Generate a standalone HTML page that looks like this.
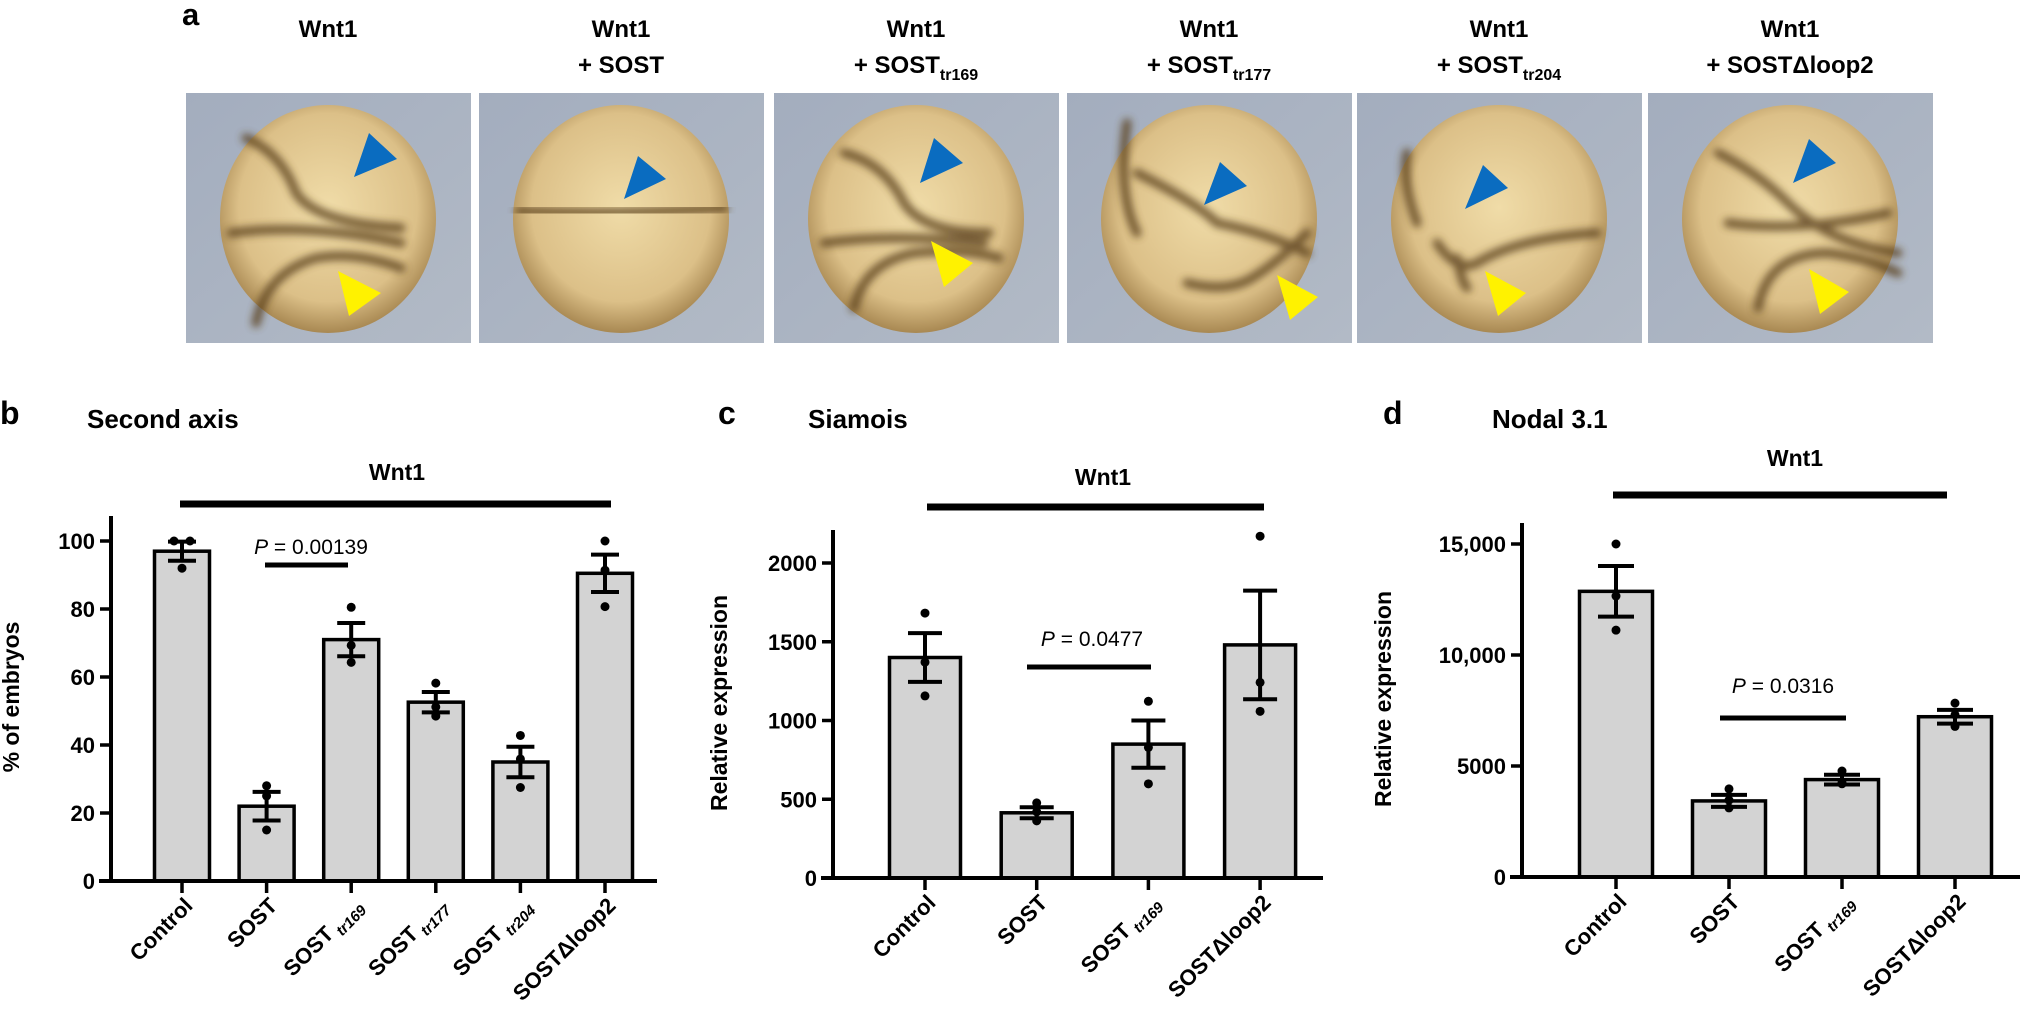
<!DOCTYPE html>
<html><head><meta charset="utf-8"><style>
html,body{margin:0;padding:0;background:#fff;}
svg{display:block;font-family:"Liberation Sans",Arial,sans-serif;}
</style></head><body>
<svg id="fig" width="2023" height="1020" viewBox="0 0 2023 1020" xmlns="http://www.w3.org/2000/svg">
<defs>
<filter id="blur" x="-20%" y="-20%" width="140%" height="140%"><feGaussianBlur stdDeviation="4"/></filter>
<radialGradient id="egg" cx="50%" cy="45%" r="55%"><stop offset="0" stop-color="#f0dca8"/><stop offset="0.75" stop-color="#dcc088"/><stop offset="1" stop-color="#a88852"/></radialGradient>
<linearGradient id="bgph" x1="0" y1="0" x2="1" y2="1"><stop offset="0" stop-color="#a3adbe"/><stop offset="1" stop-color="#b2bac6"/></linearGradient>
</defs>
<g id="panelA"></g>
<g id="charts"></g>
</svg>
<script>
const NS="http://www.w3.org/2000/svg";
const svg=document.getElementById('fig');
function mk(tag,attrs,parent,text){const e=document.createElementNS(NS,tag);for(const k in attrs)e.setAttribute(k,attrs[k]);if(text!==undefined)e.textContent=text;(parent||svg).appendChild(e);return e;}

/* ---------- Panel a: photos ---------- */
const photoLabels=["", "SOST", "SOST|tr169", "SOST|tr177", "SOST|tr204", "SOSTΔloop2"];
const boxLefts=[186,479,774,1067,1357,1648];
const blueArrows=[[168,84,211,66,183,40],[145,106,187,86,159,63],[146,90,189,70,160,45],[137,112,180,93,153,69],[108,116,151,95,126,72],[145,90,188,70,161,46]];
const yellowArrows=[[163,223,195,200,152,178],null,[170,194,199,170,157,148],[223,227,251,204,210,182],[141,223,169,200,128,178],[172,221,201,199,161,176]];
const streaks=[
 ["M60 45 Q95 60 110 100 Q130 130 215 135","M45 140 Q120 130 215 150","M70 230 Q80 180 130 165 Q170 158 215 175"],
 ["M40 118 Q140 122 245 115"],
 ["M70 60 Q110 70 130 110 Q150 140 215 140","M50 150 Q120 140 210 150","M80 215 Q90 170 140 160 Q190 155 225 165"],
 ["M60 30 Q50 100 70 140","M70 80 Q130 110 150 130 Q200 140 240 160","M120 190 Q160 200 185 185 Q210 170 240 140"],
 ["M50 60 Q45 90 60 130","M80 150 Q100 180 120 170 Q160 145 240 140","M100 165 Q105 190 110 195"],
 ["M70 60 Q110 80 140 110 Q180 150 250 160","M80 130 Q150 140 240 120","M110 215 Q120 160 180 160 Q220 165 250 180"]
];
const pa=document.getElementById('panelA');
const aLet=mk('text',{x:182,y:25,'font-size':31,'font-weight':'bold'},pa,'a');


boxLefts.forEach((L,i)=>{
  const g=mk('g',{transform:`translate(${L},93)`},pa);
  
  
  mk('rect',{x:0,y:0,width:285,height:250,fill:'url(#bgph)'},g);
  mk('ellipse',{cx:142,cy:126,rx:108,ry:114,fill:'url(#egg)'},g);
  const sg=mk('g',{filter:'url(#blur)',fill:'none',stroke:'#5a3f1c','stroke-width':9,'stroke-linecap':'round',opacity:0.8},g);
  streaks[i].forEach(d=>mk('path',{d:d},sg));
  const b=blueArrows[i];
  const bt=mk('polygon',{points:`${b[0]},${b[1]} ${b[2]},${b[3]} ${b[4]},${b[5]}`,fill:'#0a6cc0'},g);
  
  
  const y=yellowArrows[i];
  if(y){const yt=mk('polygon',{points:`${y[0]},${y[1]} ${y[2]},${y[3]} ${y[4]},${y[5]}`,fill:'#fff200'},g);
    
    }
  const cx=L+142;
  const t1=mk('text',{x:cx,y:37,'text-anchor':'middle','font-size':24,'font-weight':'bold','font-family':'"Liberation Sans Narrow","Liberation Sans",sans-serif'},pa,'Wnt1');
  
  
  if(photoLabels[i]){
    const parts=photoLabels[i].split('|');
    const t2=mk('text',{x:cx,y:73,'text-anchor':'middle','font-size':24,'font-weight':'bold','font-family':'"Liberation Sans Narrow","Liberation Sans",sans-serif'},pa);
    
    
    mk('tspan',{},t2,'+ '+parts[0]);
    if(parts[1]) mk('tspan',{'font-size':16,dy:7},t2,parts[1]);
  }
});

/* ---------- Chart data ---------- */
const bCategories=["Control","SOST","SOST|tr169","SOST|tr177","SOST|tr204","SOSTΔloop2"];
const bMeans=[97,22,71,52.6,35,90.5];
const bSem=[2.8,4.2,4.9,3,4.5,5.5];
const bDots=[[100,100,92],[28,25,15],[80.5,69.3,64.3],[58.2,51.2,48.5],[42.8,35.9,27.5],[100,91.4,80.7]];
const bTicks=[0,20,40,60,80,100];
const bTickLabels=["0","20","40","60","80","100"];

const cCategories=["Control","SOST","SOST|tr169","SOSTΔloop2"];
const cMeans=[1400,414,850,1480];
const cSem=[155,35,150,345];
const cDots=[[1682,1370,1156],[477,420,363],[1122,829,598],[2170,1242,1058]];
const cTicks=[0,500,1000,1500,2000];
const cTickLabels=["0","500","1000","1500","2000"];

const dCategories=["Control","SOST","SOST|tr169","SOSTΔloop2"];
const dMeans=[12867,3427,4388,7220];
const dSem=[1140,270,220,310];
const dDots=[[15000,12657,11119],[3968,3462,3112],[4773,4248,4200],[7832,7308,6783]];
const dTicks=[0,5000,10000,15000];
const dTickLabels=["0","5000","10,000","15,000"];

function drawChart(o){
  const g=mk('g',{},document.getElementById('charts'));
  
  
  const y=v=>o.y0-v*o.k;
  const x=i=>o.x1+i*o.step;
  const pl=mk('text',{x:o.letterX,y:424,'font-size':32,'font-weight':'bold'},g,o.letter);
  
  
  const tt=mk('text',{x:o.titleX,y:428,'font-size':26,'font-weight':'bold'},g,o.title);
  
  
  const wl=mk('text',{x:o.wntX,y:o.wntY,'text-anchor':'middle','font-size':23,'font-weight':'bold'},g,'Wnt1');
  
  
  const wb=mk('line',{x1:o.wntL1,x2:o.wntL2,y1:o.wntLY,y2:o.wntLY,stroke:'#000','stroke-width':7},g);
  
  
  o.means.forEach((m,i)=>{
    const r=mk('rect',{x:x(i)-o.bw/2,y:y(m),width:o.bw,height:o.y0-y(m),fill:'#d3d3d3',stroke:'#000','stroke-width':3.5},g);
    
    
  });
  o.means.forEach((m,i)=>{
    const eg=mk('g',{stroke:'#000','stroke-width':4},g);
    
    
    const hi=y(m+o.sem[i]),lo=y(m-o.sem[i]);
    mk('line',{x1:x(i),x2:x(i),y1:hi,y2:lo},eg);
    mk('line',{x1:x(i)-o.cap,x2:x(i)+o.cap,y1:hi,y2:hi},eg);
    mk('line',{x1:x(i)-o.cap,x2:x(i)+o.cap,y1:lo,y2:lo},eg);
    const seen={};
    o.dots[i].forEach(v=>{
      let dx=0;if(seen[v]!==undefined){dx=8;seen[v]++;}else seen[v]=0;
      const off=(o.dots[i].filter(z=>z===v).length>1)?(dx?8:-8):0;
      const c=mk('circle',{cx:x(i)+off,cy:y(v),r:4.5,fill:'#000'},g);
      
      
    });
  });
  const ya=mk('line',{x1:o.ax,x2:o.ax,y1:o.top,y2:o.y0+2,stroke:'#000','stroke-width':4},g);
  
  
  const xa=mk('line',{x1:o.ax-12,x2:o.xEnd,y1:o.y0,y2:o.y0,stroke:'#000','stroke-width':4},g);
  
  
  o.ticks.forEach((t,i)=>{
    mk('line',{x1:o.ax-11,x2:o.ax,y1:y(t),y2:y(t),stroke:'#000','stroke-width':3.5},g);
    const tl=mk('text',{x:o.ax-16,y:y(t)+8,'text-anchor':'end','font-size':22,'font-weight':'bold'},g,o.tickLabels[i]);
    
    
  });
  const yt=mk('text',{x:0,y:0,transform:`translate(${o.ytX},${o.ytY}) rotate(-90)`,'text-anchor':'middle','font-size':23,'font-weight':'bold'},g,o.yTitle);
  
  
  o.cats.forEach((c,i)=>{
    mk('line',{x1:x(i),x2:x(i),y1:o.y0,y2:o.y0+12,stroke:'#000','stroke-width':3.5},g);
    const parts=c.split('|');
    const tx=mk('text',{x:0,y:0,transform:`translate(${x(i)+12},${o.y0+26}) rotate(-45)`,'text-anchor':'end','font-size':22,'font-weight':'bold'},g);
    
    
    mk('tspan',{},tx,parts[0]);
    if(parts[1]) mk('tspan',{'font-size':15,'font-style':'italic','font-weight':'bold',dx:4,dy:6},tx,parts[1]);
  });
  const pt=mk('text',{x:o.pX,y:o.pY,'text-anchor':'middle','font-size':21},g);
  
  
  mk('tspan',{'font-style':'italic'},pt,'P');
  mk('tspan',{},pt,' = '+o.p);
  const pb=mk('line',{x1:o.pL1,x2:o.pL2,y1:o.pLY,y2:o.pLY,stroke:'#000','stroke-width':5},g);
  
  
}

drawChart({name:'chart-second-axis',letter:'b',letterX:0,title:'Second axis',titleX:87,
  cats:bCategories,means:bMeans,sem:bSem,dots:bDots,ticks:bTicks,tickLabels:bTickLabels,
  y0:881,k:3.4,x1:182,step:84.6,bw:55,cap:14,ax:111,top:516,xEnd:657,
  yTitle:'% of embryos',ytX:19,ytY:697,
  wntX:397,wntY:480,wntL1:180,wntL2:611,wntLY:504,
  p:'0.00139',pX:311,pY:554,pL1:265,pL2:348,pLY:565});
drawChart({name:'chart-siamois',letter:'c',letterX:718,title:'Siamois',titleX:808,
  cats:cCategories,means:cMeans,sem:cSem,dots:cDots,ticks:cTicks,tickLabels:cTickLabels,
  y0:878,k:0.1575,x1:925,step:111.7,bw:71,cap:17,ax:833,top:530,xEnd:1323,
  yTitle:'Relative expression',ytX:727,ytY:703,
  wntX:1103,wntY:485,wntL1:927,wntL2:1264,wntLY:507,
  p:'0.0477',pX:1092,pY:646,pL1:1027,pL2:1151,pLY:667});
drawChart({name:'chart-nodal',letter:'d',letterX:1383,title:'Nodal 3.1',titleX:1492,
  cats:dCategories,means:dMeans,sem:dSem,dots:dDots,ticks:dTicks,tickLabels:dTickLabels,
  y0:877,k:0.0222,x1:1616,step:113,bw:73,cap:18,ax:1522,top:523,xEnd:2020,
  yTitle:'Relative expression',ytX:1391,ytY:699,
  wntX:1795,wntY:466,wntL1:1613,wntL2:1947,wntLY:495,
  p:'0.0316',pX:1783,pY:693,pL1:1720,pL2:1846,pLY:718});
</script>
</body></html>
